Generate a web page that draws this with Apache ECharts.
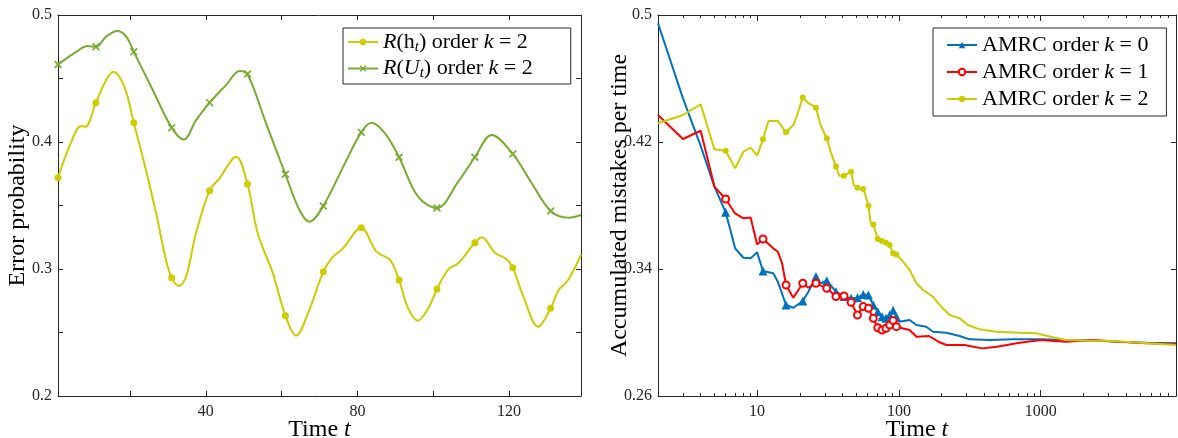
<!DOCTYPE html>
<html lang="en">
<head>
    <meta charset="UTF-8">
    <title>Error probability / accumulated mistakes</title>
    <script src="https://cdn.jsdelivr.net/npm/echarts@6.0.0/dist/echarts.min.js"></script>
    <style>
        body { margin: 0; padding: 0; background: #fff; overflow: hidden; }
        #chart { width: 1178px; height: 438px; }
    </style>
</head>
<body>
<div id="chart"></div>
<script>
    // ---- left panel: error probability vs time ----
    var tH = [1, 4, 7.1, 8.2, 11, 13.7, 15.6, 18.5, 21, 24.2, 26.9, 29.5, 31, 32.9, 34.8, 37.4, 41, 43.6, 48, 51,
              53.7, 57.7, 61, 63.8, 67.3, 71, 73.2, 76.2, 81, 85, 88.6, 91, 93.4, 96, 98.7, 101, 104, 106.6, 111, 112.8,
              116.3, 119.4, 121, 123.8, 127.7, 131, 133, 135.6, 139]
    var errH = [0.3719, 0.3963, 0.4126, 0.412, 0.431, 0.4488, 0.4554, 0.4436, 0.4152, 0.378,
                0.3438, 0.307, 0.2932, 0.2866, 0.294, 0.3281, 0.3617, 0.3714, 0.3884, 0.3669,
                0.3281, 0.2966, 0.2632, 0.2475, 0.2677, 0.2979, 0.3084, 0.3163, 0.3325, 0.3137,
                0.3071, 0.2913, 0.269, 0.2593, 0.269, 0.2843, 0.2997, 0.3045, 0.3207, 0.325,
                0.3128, 0.3076, 0.301, 0.2782, 0.2546, 0.269, 0.2829, 0.2913, 0.311]
    var tU = [1, 5.8, 8.8, 11, 13.7, 16.6, 19, 21, 26, 31, 34.2, 37.4, 41, 45.4, 48.9, 51, 55.9, 61, 64.7, 67.4,
              71, 76.7, 81, 83.7, 87.3, 91, 96, 101, 106.6, 111, 115.4, 121, 126, 131, 135.7, 139]
    var errU = [0.461, 0.471, 0.4756, 0.475, 0.483, 0.4874, 0.483, 0.471, 0.441, 0.4113,
                0.402, 0.417, 0.431, 0.445, 0.456, 0.4535, 0.4147, 0.3746, 0.3465, 0.3373,
                0.3496, 0.3832, 0.4076, 0.4152, 0.4068, 0.388, 0.357, 0.348, 0.3688, 0.388,
                0.4055, 0.3906, 0.3675, 0.3457, 0.3404, 0.3425]
    var leftXLabels = [40, 80, 120]
    var leftXTicks = [20, 40, 60, 80, 100, 120]
    var leftYLabels = [0.2, 0.3, 0.4, 0.5]
    var leftYTicks = [0.2, 0.25, 0.3, 0.35, 0.4, 0.45, 0.5]

    // ---- right panel: accumulated mistakes per time (log time) ----
    var tK0 = [2, 3, 4, 5, 6, 7, 8, 9, 10, 11, 13, 14, 16, 18, 21, 23, 26, 28, 31, 36,
               41, 46, 51, 56, 61, 66, 71, 76, 81, 86, 91, 96, 100, 119, 133, 156, 174, 216, 268, 315,
               435, 636, 1000, 1500, 2320, 3590, 5530, 9000]
    var mistK0 = [0.4948, 0.4475, 0.4175, 0.3919, 0.3757, 0.353, 0.3471, 0.3467, 0.3505, 0.3387,
                  0.3373, 0.332, 0.3173, 0.3156, 0.3198, 0.3257, 0.3352, 0.331, 0.3326, 0.3257,
                  0.3226, 0.3215, 0.3219, 0.324, 0.3236, 0.3173, 0.313, 0.310, 0.3089, 0.311,
                  0.314, 0.310, 0.3068, 0.3079, 0.3047, 0.3036, 0.3005, 0.2999, 0.2978, 0.2957,
                  0.2953, 0.2957, 0.2957, 0.2953, 0.2949, 0.2942, 0.2936, 0.2932]
    var tK1 = [2, 3, 4, 5, 6, 7, 8, 9, 10, 11, 13, 14, 15, 16, 18, 21, 23, 26, 31, 36,
               41, 46, 51, 56, 61, 66, 71, 76, 81, 86, 91, 96, 100, 119, 133, 163, 190, 216, 290, 385,
               490, 710, 1000, 1500, 2320, 3590, 5530, 9000]
    var mistK1 = [0.437, 0.4219, 0.4271, 0.3919, 0.3841, 0.375, 0.3719, 0.3725, 0.3555, 0.3589,
                  0.353, 0.3509, 0.3436, 0.3299, 0.3219, 0.331, 0.3282, 0.331, 0.3278, 0.3226,
                  0.323, 0.319, 0.311, 0.3163, 0.3152, 0.3089, 0.303, 0.3016, 0.3026, 0.3047,
                  0.3075, 0.3037, 0.3032, 0.3016, 0.2973, 0.2978, 0.2942, 0.2921, 0.2921, 0.29,
                  0.291, 0.2936, 0.2953, 0.2942, 0.2953, 0.2942, 0.2932, 0.2928]
    var tK2 = [2, 3, 4, 5, 6, 7, 8, 9, 10, 11, 12, 14, 16, 18, 19, 21, 23, 24, 26, 28,
               31, 33, 36, 38, 41, 46, 48, 51, 56, 58, 61, 63, 66, 71, 76, 81, 86, 91, 96, 107,
               119, 133, 148, 174, 199, 228, 268, 307, 371, 486, 710, 930, 1217, 1500, 2090, 3220, 5000, 9000]
    var mistK2 = [0.4318, 0.437, 0.4437, 0.4154, 0.4145, 0.4034, 0.4139, 0.4164, 0.4114, 0.4217,
                  0.4332, 0.4332, 0.4261, 0.4307, 0.436, 0.4481, 0.4444, 0.4437, 0.4416, 0.4307,
                  0.4223, 0.4139, 0.4045, 0.3988, 0.3988, 0.4013, 0.3929, 0.3912, 0.3904, 0.3866,
                  0.3799, 0.3698, 0.3681, 0.3589, 0.3576, 0.3566, 0.3551, 0.3499, 0.3492, 0.3446,
                  0.3394, 0.331, 0.3268, 0.3225, 0.3162, 0.311, 0.3089, 0.3047, 0.302, 0.3005,
                  0.2999, 0.2995, 0.297, 0.2953, 0.2949, 0.2947, 0.2936, 0.2921]
    var rightXLabels = [10, 100, 1000]
    var rightXMajor = [10, 100, 1000]
    var rightXMinor = [3, 4, 5, 6, 7, 8, 9, 20, 30, 40, 50, 60, 70, 80, 90,
                       200, 300, 400, 500, 600, 700, 800, 900, 2000, 3000, 4000, 5000, 6000, 7000, 8000]
    var rightYLabels = [0.26, 0.34, 0.42, 0.5]

    var FONT = '"Liberation Serif", "DejaVu Serif", serif'
    var AX = '#262626'
    var C_Y = '#cccc00', C_G = '#77ac30', C_B = '#0072bd', C_R = '#ff0000'
    var xSymbol = 'path://M0,1.5L1.5,0L5,3.5L8.5,0L10,1.5L6.5,5L10,8.5L8.5,10L5,6.5L1.5,10L0,8.5L3.5,5Z'

    function zip(xs, ys) {
        return xs.map(function (x, i) { return [x, ys[i]] })
    }

    var nameStyle = {
        fontFamily: FONT, fontSize: 24, color: '#000',
        rich: { i: { fontFamily: FONT, fontSize: 24, fontStyle: 'italic', color: '#000' } }
    }

    function axis(o) {
        var a = {
            type: o.type || 'value',
            gridIndex: o.grid,
            position: o.pos,
            min: o.min, max: o.max,
            axisLine: { show: o.line !== false, lineStyle: { color: AX, width: 1 } },
            axisTick: { show: !!o.ticks, inside: true, length: o.tickLen || 5,
                        customValues: o.ticks, lineStyle: { color: AX, width: 1 } },
            axisLabel: { show: !!o.labels, customValues: o.labels, fontFamily: FONT, fontSize: 16,
                         color: AX, margin: o.margin || 8, formatter: o.fmt },
            splitLine: { show: false }
        }
        if (o.name) {
            a.name = o.name
            a.nameLocation = 'middle'
            a.nameGap = o.nameGap
            a.nameMoveOverlap = false
            a.nameTextStyle = nameStyle
        }
        return a
    }

    var logFmt = function (v) { return String(Math.round(v)) }

    var xAxes = [
        axis({ grid: 0, pos: 'bottom', min: 1, max: 139, ticks: leftXTicks, labels: leftXLabels,
               name: 'Time {i|t}', nameGap: 22 }),
        axis({ grid: 0, pos: 'top', min: 1, max: 139, ticks: leftXTicks }),
        axis({ grid: 1, type: 'log', pos: 'bottom', min: 2, max: 9000, ticks: rightXMajor, tickLen: 6,
               labels: rightXLabels, fmt: logFmt, name: 'Time {i|t}', nameGap: 22 }),
        axis({ grid: 1, type: 'log', pos: 'bottom', min: 2, max: 9000, ticks: rightXMinor, tickLen: 3, line: false }),
        axis({ grid: 1, type: 'log', pos: 'top', min: 2, max: 9000, ticks: rightXMajor, tickLen: 6 }),
        axis({ grid: 1, type: 'log', pos: 'top', min: 2, max: 9000, ticks: rightXMinor, tickLen: 3, line: false })
    ]
    var yAxes = [
        axis({ grid: 0, pos: 'left', min: 0.2, max: 0.5, ticks: leftYTicks, labels: leftYLabels,
               margin: 6, name: 'Error probability', nameGap: 28 }),
        axis({ grid: 0, pos: 'right', min: 0.2, max: 0.5, ticks: leftYTicks }),
        axis({ grid: 1, pos: 'left', min: 0.26, max: 0.5, ticks: rightYLabels, labels: rightYLabels,
               margin: 6, name: 'Accumulated mistakes per time', nameGap: 26 }),
        axis({ grid: 1, pos: 'right', min: 0.26, max: 0.5, ticks: rightYLabels })
    ]

    // markers every 10 steps on the left, every 5 steps (up to t=100) on the right
    function leftMark(size) {
        return function (v) { return (Math.abs((v[0] - 1) % 10) < 1e-9) ? size : 0 }
    }
    function rightMark(size) {
        return function (v) { return (v[0] <= 100 && (v[0] - 1) % 5 === 0) ? size : 0 }
    }

    var legendText = {
        fontFamily: FONT, fontSize: 22, color: '#000',
        rich: {
            i: { fontFamily: FONT, fontSize: 22, fontStyle: 'italic', color: '#000' },
            s: { fontFamily: FONT, fontSize: 15, fontStyle: 'italic', color: '#000', padding: [10, 0, 0, 0] }
        }
    }
    var legendLabels = {
        'R(h_t) order k = 2': '{i|R}(h{s|t}) order {i|k} = 2',
        'R(U_t) order k = 2': '{i|R}({i|U}{s|t}) order {i|k} = 2',
        'AMRC order k = 0': 'AMRC order {i|k} = 0',
        'AMRC order k = 1': 'AMRC order {i|k} = 1',
        'AMRC order k = 2': 'AMRC order {i|k} = 2'
    }
    function legendFmt(name) { return legendLabels[name] }

    var option = {
        animation: false,
        backgroundColor: '#fff',
        grid: [
            { left: 58, top: 15, width: 523, height: 381, containLabel: false, outerBoundsMode: 'none' },
            { left: 658, top: 15, width: 518, height: 381, containLabel: false, outerBoundsMode: 'none' }
        ],
        xAxis: xAxes,
        yAxis: yAxes,
        legend: [
            {
                data: ['R(h_t) order k = 2', 'R(U_t) order k = 2'],
                orient: 'vertical', left: 343, top: 28,
                padding: [3, 38, 3, 4], itemGap: 3, itemWidth: 30, itemHeight: 8,
                borderColor: AX, borderWidth: 1, backgroundColor: '#fff',
                textStyle: legendText, formatter: legendFmt
            },
            {
                data: ['AMRC order k = 0', 'AMRC order k = 1', 'AMRC order k = 2'],
                orient: 'vertical', left: 933, top: 28,
                padding: [6, 18, 6, 13], itemGap: 5, itemWidth: 30, itemHeight: 8,
                borderColor: AX, borderWidth: 1, backgroundColor: '#fff',
                textStyle: legendText, formatter: legendFmt
            }
        ],
        series: [
            {
                name: 'R(h_t) order k = 2', type: 'line', xAxisIndex: 0, yAxisIndex: 0,
                data: zip(tH, errH), smooth: 0.35, color: C_Y,
                lineStyle: { width: 2, color: C_Y },
                symbol: 'circle', symbolSize: leftMark(7), itemStyle: { color: C_Y }
            },
            {
                name: 'R(U_t) order k = 2', type: 'line', xAxisIndex: 0, yAxisIndex: 0,
                data: zip(tU, errU), smooth: 0.35, color: C_G,
                lineStyle: { width: 2, color: C_G },
                symbol: xSymbol, symbolSize: leftMark(8), itemStyle: { color: C_G }
            },
            {
                name: 'AMRC order k = 0', type: 'line', xAxisIndex: 2, yAxisIndex: 2,
                data: zip(tK0, mistK0), color: C_B,
                lineStyle: { width: 2, color: C_B },
                symbol: 'triangle', symbolSize: rightMark(9), itemStyle: { color: C_B }
            },
            {
                name: 'AMRC order k = 1', type: 'line', xAxisIndex: 2, yAxisIndex: 2,
                data: zip(tK1, mistK1), color: C_R,
                lineStyle: { width: 2, color: C_R },
                symbol: 'emptyCircle', symbolSize: rightMark(7),
                itemStyle: { color: C_R, borderColor: C_R, borderWidth: 1.5 }
            },
            {
                name: 'AMRC order k = 2', type: 'line', xAxisIndex: 2, yAxisIndex: 2,
                data: zip(tK2, mistK2), color: C_Y,
                lineStyle: { width: 2, color: C_Y },
                symbol: 'circle', symbolSize: rightMark(6), itemStyle: { color: C_Y }
            }
        ]
    }

    var myChart = echarts.init(document.getElementById('chart'), null, { renderer: 'canvas' })
    myChart.setOption(option)
</script>
</body>
</html>
